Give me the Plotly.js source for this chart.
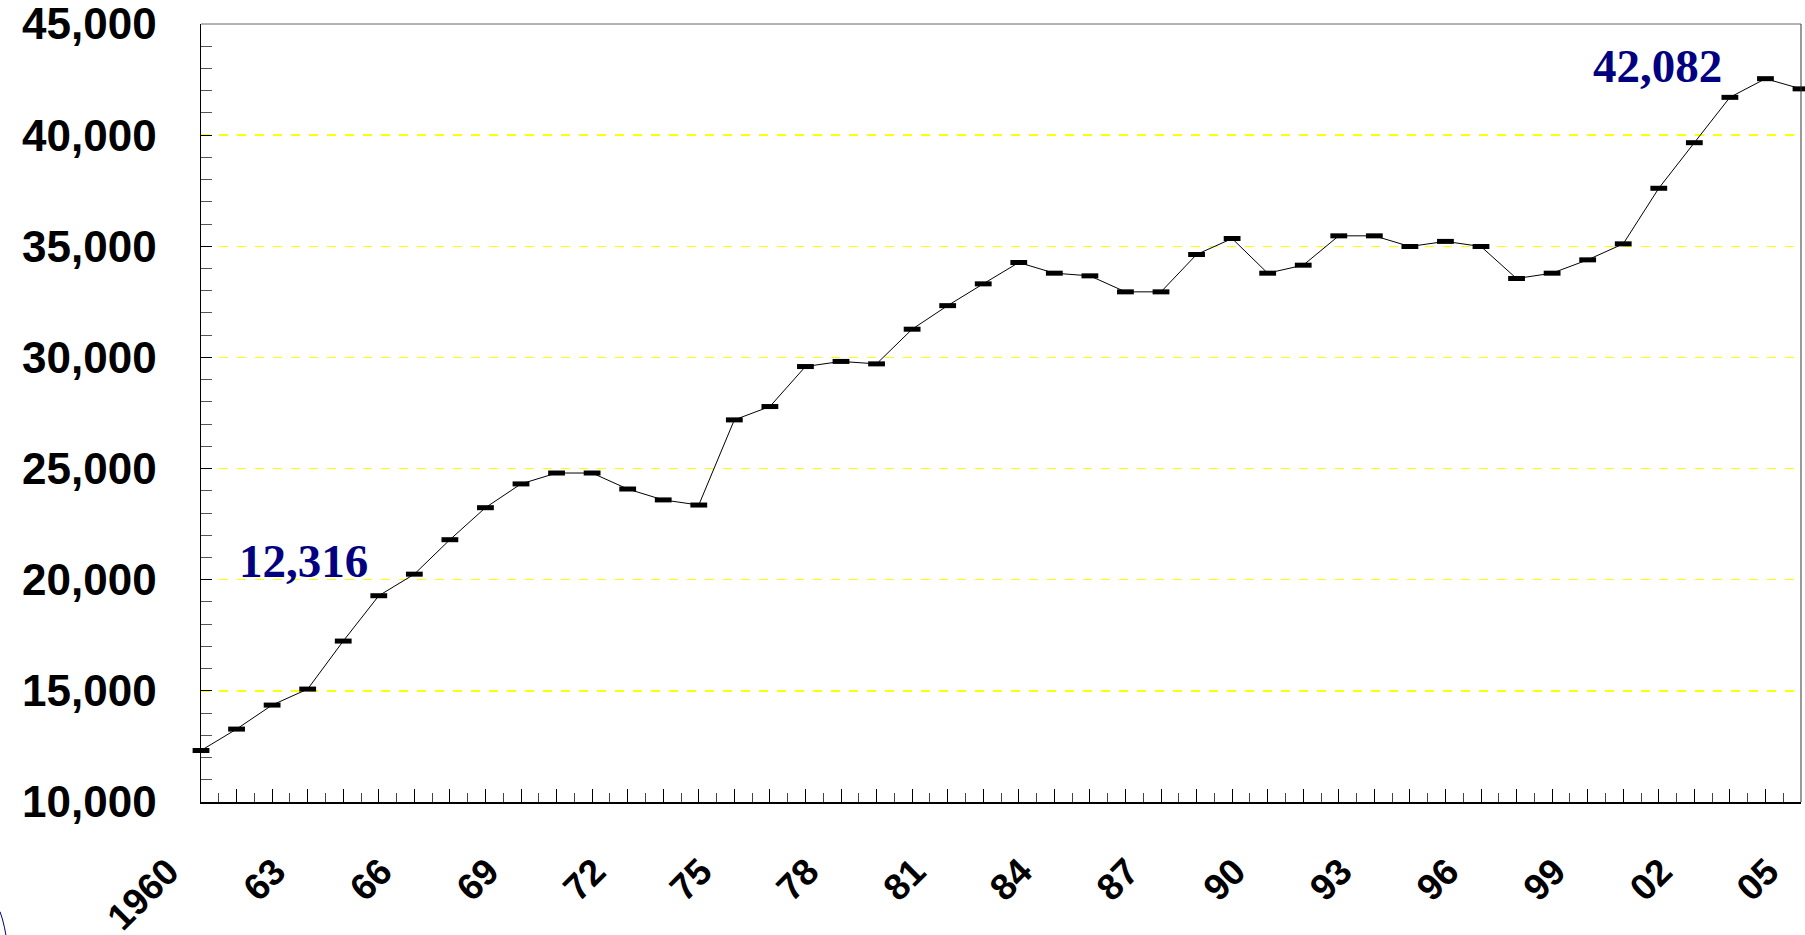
<!DOCTYPE html>
<html>
<head>
<meta charset="utf-8">
<script src="https://cdn.plot.ly/plotly-3.0.1.min.js"></script>
<style>
  html, body { margin: 0; padding: 0; background: #ffffff; }
  #chart { width: 1805px; height: 935px; }
</style>
</head>
<body>
<div id="chart"></div>
<script>
// ---- data ----
const years = [1960,1961,1962,1963,1964,1965,1966,1967,1968,1969,
               1970,1971,1972,1973,1974,1975,1976,1977,1978,1979,
               1980,1981,1982,1983,1984,1985,1986,1987,1988,1989,
               1990,1991,1992,1993,1994,1995,1996,1997,1998,1999,
               2000,2001,2002,2003,2004,2005];
const values = [12316,13280,14360,15080,17240,19280,20250,21800,23240,24310,
                24800,24800,24080,23590,23360,27190,27790,29590,29820,29710,
                31270,32330,33310,34270,33790,33670,32950,32950,34630,35350,
                33790,34150,35470,35470,34990,35220,34990,33550,33790,34390,
                35110,37610,39660,41700,42540,42082];
const tickYears = [1960,1961,1962,1963,1964,1965,1966,1967,1968,1969,
                   1970,1971,1972,1973,1974,1975,1976,1977,1978,1979,
                   1980,1981,1982,1983,1984,1985,1986,1987,1988,1989,
                   1990,1991,1992,1993,1994,1995,1996,1997,1998,1999,
                   2000,2001,2002,2003,2004,2005];
const tickLabels = ["1960","","","63","","","66","","","69",
                    "","","72","","","75","","","78","",
                    "","81","","","84","","","87","","",
                    "90","","","93","","","96","","","99",
                    "","","02","","","05"];
const yTickVals = [10000,15000,20000,25000,30000,35000,40000,45000];

const fmt = v => v.toLocaleString('en-US');

const trace = {
  x: years,
  y: values,
  type: 'scatter',
  mode: 'lines+markers',
  line: { color: '#000000', width: 1 },
  marker: { symbol: 'line-ew', size: 12, color: '#000000',
            line: { color: '#000000', width: 5 } },
  cliponaxis: false,
  hoverinfo: 'x+y'
};

const axisFont = { family: 'Arial', size: 44, color: '#000000', weight: 'bold' };
const xFont = { family: 'Arial', size: 37, color: '#000000', weight: 'bold' };
const annFont = { family: 'Liberation Serif, Times New Roman, serif', size: 47, color: '#000080', weight: 'bold' };

const first = 0, last = values.length - 1;

const layout = {
  width: 1805, height: 935,
  margin: { l: 201, r: 4, t: 24, b: 133, pad: 0 },
  paper_bgcolor: '#ffffff',
  plot_bgcolor: '#ffffff',
  showlegend: false,
  xaxis: {
    range: [1960, 2005],
    tickmode: 'array',
    tickvals: tickYears,
    ticktext: tickLabels,
    tickangle: -45,
    ticks: 'inside',
    ticklen: 13,
    tickwidth: 1,
    tickcolor: '#000000',
    tickfont: xFont,
    ticklabelstandoff: 31,
    ticklabelshift: -33,
    showgrid: false,
    zeroline: false,
    showline: true,
    linecolor: '#000000',
    linewidth: 2,
    minor: { tick0: 1960, dtick: 0.5, ticks: 'inside', ticklen: 9, tickwidth: 1, tickcolor: '#444444', showgrid: false }
  },
  yaxis: {
    range: [10000, 45000],
    tickmode: 'array',
    tickvals: yTickVals,
    ticktext: yTickVals.map(fmt),
    ticks: 'inside',
    ticklen: 11,
    tickwidth: 1,
    tickcolor: '#000000',
    tickfont: axisFont,
    ticklabelstandoff: 34,
    ticklabeloverflow: 'allow',
    showgrid: true,
    gridcolor: '#FFFF00',
    gridwidth: 1.5,
    griddash: 'dash',
    zeroline: false,
    showline: true,
    linecolor: '#000000',
    linewidth: 1.5,
    minor: { tick0: 10000, dtick: 1000, ticks: 'inside', ticklen: 11, tickwidth: 1, tickcolor: '#555555', showgrid: false }
  },
  shapes: [
    { type: 'line', xref: 'paper', yref: 'paper', x0: 0, x1: 1, y0: 1, y1: 1,
      line: { color: '#666666', width: 1 } },
    { type: 'line', xref: 'paper', yref: 'paper', x0: 1, x1: 1, y0: 0, y1: 1,
      line: { color: '#333333', width: 1 } },
    { type: 'path', xref: 'paper', yref: 'paper',
      path: 'M -0.1256,-0.141 Q -0.1225,-0.158 -0.1205,-0.19',
      line: { color: '#000080', width: 1 } }
  ],
  annotations: [
    { x: 1961.0, y: 20829, xref: 'x', yref: 'y', xanchor: 'left', yanchor: 'middle',
      text: fmt(values[first]), showarrow: false, font: annFont },
    { x: 1999.1, y: 43111, xref: 'x', yref: 'y', xanchor: 'left', yanchor: 'middle',
      text: fmt(values[last]), showarrow: false, font: annFont }
  ]
};

Plotly.newPlot('chart', [trace], layout, { displayModeBar: false, staticPlot: true });
</script>
</body>
</html>
